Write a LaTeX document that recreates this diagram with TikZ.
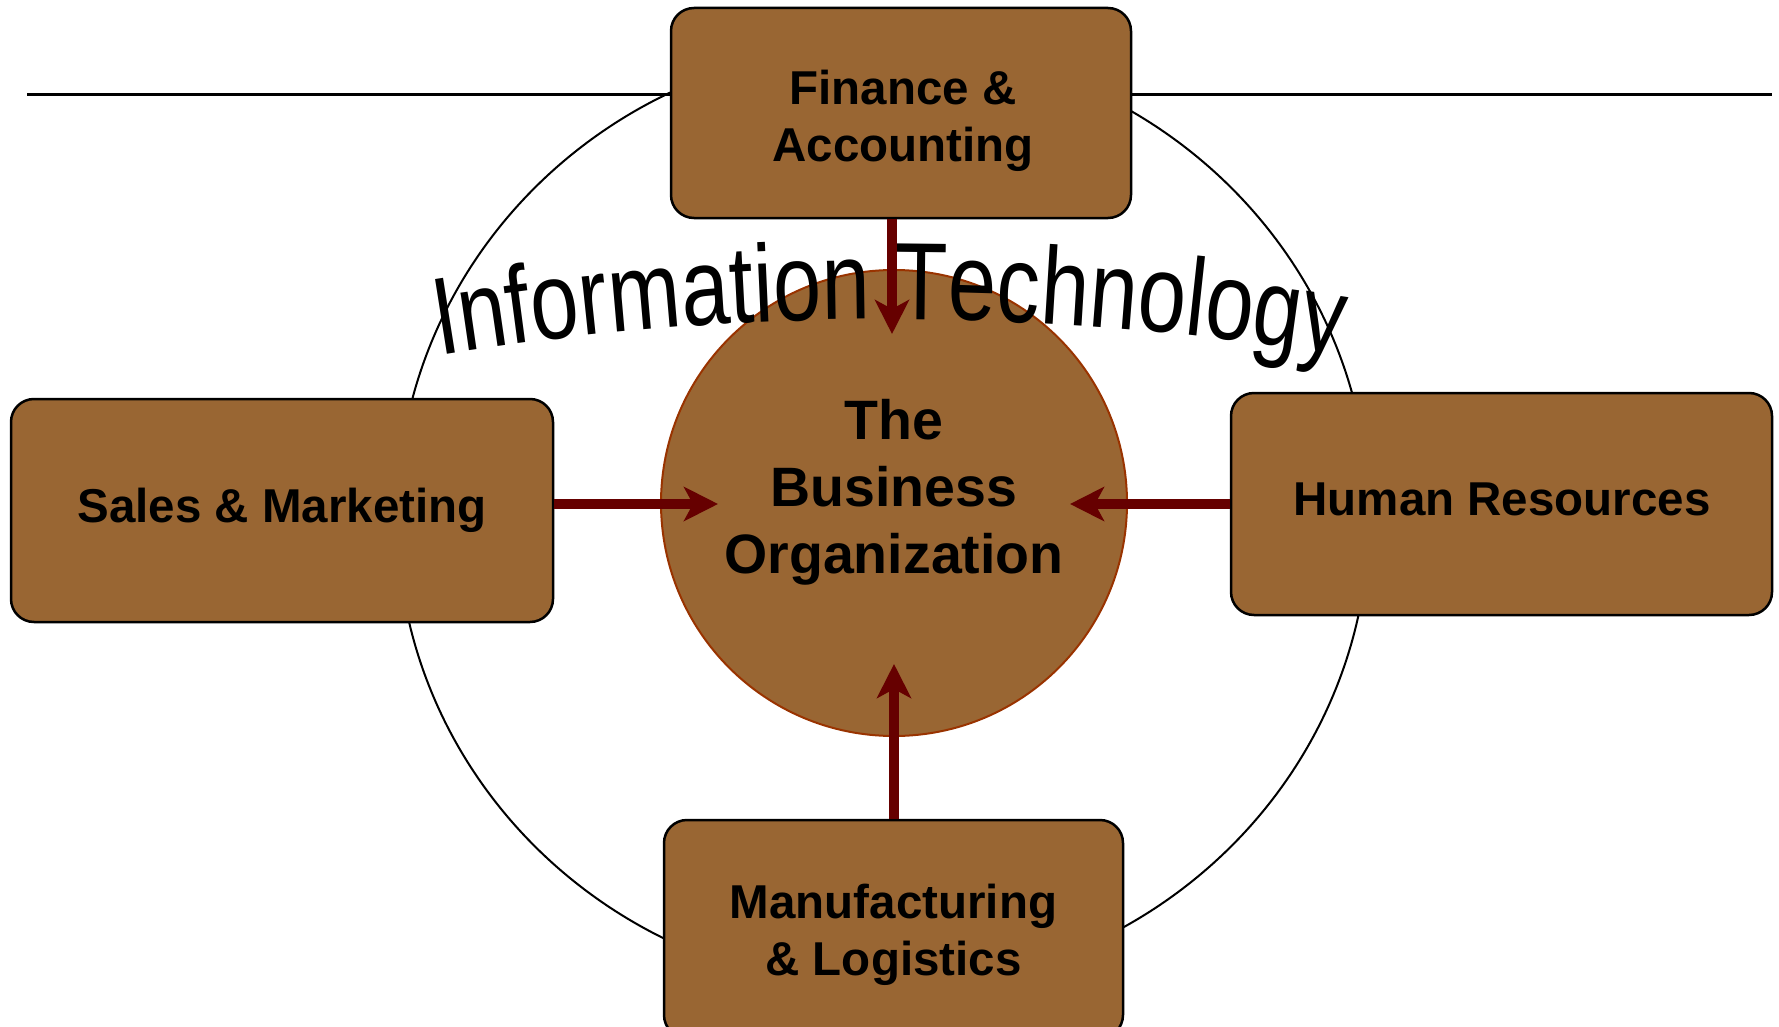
\documentclass[tikz,border=0pt]{standalone}
\usepackage{fontspec}
\setmainfont{Liberation Sans}
\newfontfamily\itfont{Liberation Sans}
\usetikzlibrary{arrows.meta}
\definecolor{brownfill}{HTML}{996633}
\definecolor{circborder}{HTML}{993300}
\definecolor{arrowred}{HTML}{660000}
\newlength\itchw
\newlength\itcum
\newcommand\itchars{I,n,f,o,r,m,a,t,i,o,n,{\ },T,e,c,h,n,o,l,o,g,y}
\begin{document}%
\global\itcum=0pt%
\foreach \ch [count=\k] in \itchars {%
  \settowidth{\itchw}{\itfont\fontsize{86.6}{90}\selectfont \ch}%
  \expandafter\xdef\csname itmid\k\endcsname{\the\dimexpr\itcum+\itchw/2\relax}%
  \global\advance\itcum by \itchw
}%
\xdef\itWtot{\the\itcum}%
\begin{tikzpicture}[x=1pt,y=-1pt,
  func/.style={draw=black, line width=2.5pt, fill=brownfill, rounded corners=23pt, inner sep=0pt},
  functext/.style={font=\fontsize{47.5}{57}\selectfont\bfseries, align=center, inner sep=0pt},
  flow/.style={draw=arrowred, line width=10pt, -{Stealth[length=34pt,width=34pt,inset=9pt]}},
  itchar/.style={anchor=base, inner sep=0pt, outer sep=0pt, font=\itfont\fontsize{86.6}{90}\selectfont}]
\useasboundingbox (0,0) rectangle (1779,1027);
\clip (0,0) rectangle (1779,1027);
% top rule
\coordinate (lineL) at (27,94.5);
\coordinate (lineR) at (1772,94.5);
\draw[line width=2.5pt] (lineL) -- (lineR);
% outer ring
\coordinate (ringC) at (883,517);
\draw[line width=2pt] (ringC) ellipse [x radius=486, y radius=472];
% central circle
\node[circle, draw=circborder, line width=2pt, fill=brownfill, minimum size=466pt, inner sep=0pt] (org) at (894,503) {};
\node[font=\fontsize{55.5}{67}\selectfont\bfseries, align=center, inner sep=0pt] (orglabel) at (894,492.5) {The\\Business\\Organization};
% functional boxes
\node[func, minimum width=460pt, minimum height=210pt] (fin) at (901,113) {};
\node[functext] (finL) at (903,121) {Finance \&\\Accounting};
\node[func, minimum width=542pt, minimum height=223pt] (sales) at (282,510.5) {};
\node[functext] (salesL) at (282,510) {Sales \& Marketing};
\node[func, minimum width=541pt, minimum height=222pt] (hr) at (1501.5,504) {};
\node[functext] (hrL) at (1502,499) {Human Resources};
\node[func, minimum width=459pt, minimum height=218pt] (mfg) at (893.5,929) {};
\node[functext] (mfgL) at (893.5,935) {Manufacturing\\\& Logistics};
% arched text
\foreach \ch [count=\k] in \itchars {
  \pgfmathsetmacro\ths{(\csname itmid\k\endcsname-0.5*\itWtot)/2800*180/pi}
  \pgfmathsetmacro\px{890+2800*sin(\ths)}
  \pgfmathsetmacro\py{3119-2800*cos(\ths)}
  \node[itchar, rotate=-\ths] (itc\k) at (\px,\py) {\scalebox{1}[1.27]{\ch}};
}
% arrows
\coordinate (tipS) at (718,504);
\coordinate (tipH) at (1070,504);
\coordinate (tipF) at (892,334);
\coordinate (tipM) at (894,664);
\draw[flow] (sales.east |- tipS) -- (tipS);
\draw[flow] (hr.west |- tipH) -- (tipH);
\draw[flow] (fin.south -| tipF) -- (tipF);
\draw[flow] (mfg.north -| tipM) -- (tipM);
\end{tikzpicture}
\end{document}
